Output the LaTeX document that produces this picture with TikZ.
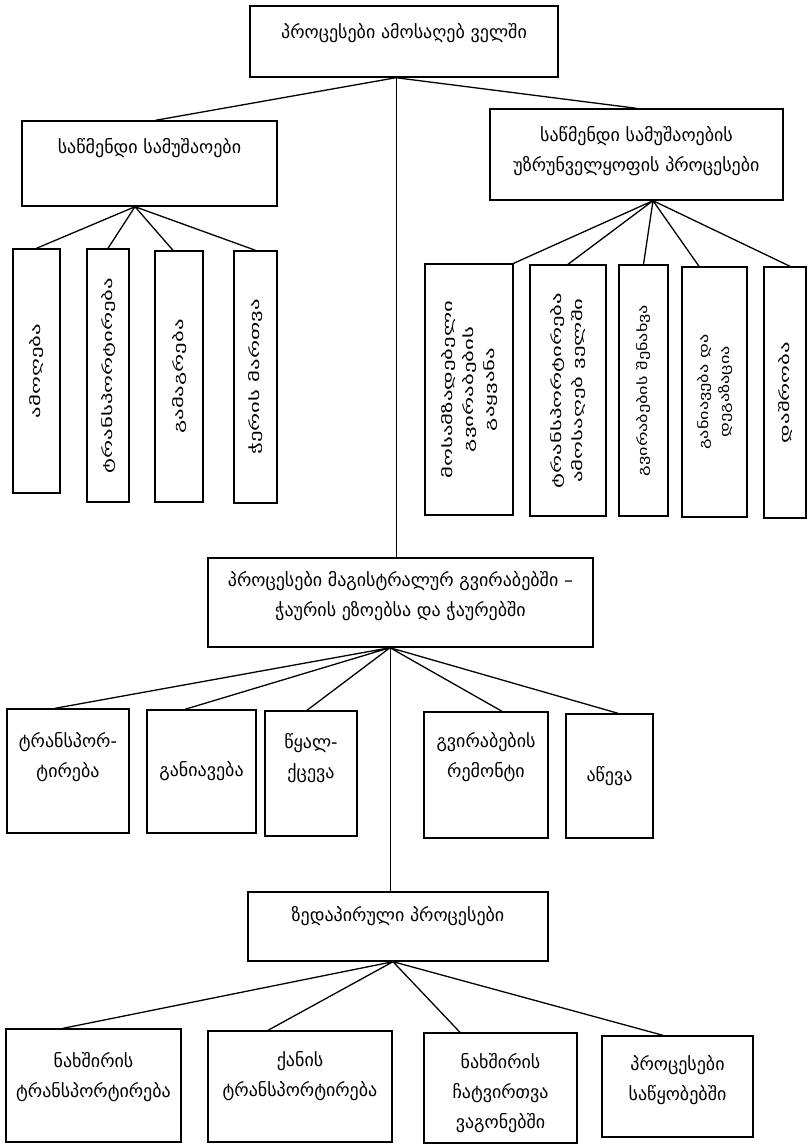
\documentclass[tikz,border=0pt]{standalone}
\usepackage{fontspec}
\setmainfont{DejaVu Sans}
\usepackage{graphicx}
\usetikzlibrary{positioning}

% text of the tall boxes: stretched along the line, then turned by the node
\newcommand{\vtxt}[2][1.75]{\scalebox{#1}[1]{\begin{tabular}{@{}c@{}}#2\end{tabular}}}

\begin{document}
\begin{tikzpicture}[
    x=1pt, y=-1pt,
    box/.style={draw, line width=1.4pt, align=center, inner sep=2pt,
        font=\fontsize{18}{30}\selectfont},
    tall/.style={draw, line width=1.4pt, rotate=90, inner sep=1pt,
        font=\fontsize{13}{21}\selectfont},
    lift/.style={text depth=#1},
    drop/.style={text height=#1},
    link/.style={line width=1.3pt},
    spine/.style={line width=1pt}
]
    \useasboundingbox (0,0) rectangle (808,1144);

    % top level and its two branches
    \node[box, minimum width=308, minimum height=71, lift=22] (top) at (404,41.5) {პროცესები ამოსაღებ ველში};
    \node[box, minimum width=255, minimum height=85, lift=35] (saw) at (149.5,163.5) {საწმენდი სამუშაოები};
    \node[box, minimum width=293, minimum height=91, lift=11] (uzr) at (636.5,154.5) {საწმენდი სამუშაოების\\უზრუნველყოფის პროცესები};

    % tall boxes, left
    \node[tall, minimum width=244, minimum height=47] (l1) at (36.5,371) {\vtxt{ამოღება}};
    \node[tall, minimum width=253, minimum height=42] (l2) at (108,375.5) {\vtxt{ტრანსპორტირება}};
    \node[tall, minimum width=251, minimum height=48] (l3) at (179,376.5) {\vtxt{გამაგრება}};
    \node[tall, minimum width=252, minimum height=43] (l4) at (255.5,377) {\vtxt{ჭერის მართვა}};

    % tall boxes, right
    \node[tall, minimum width=251, minimum height=88] (r1) at (469,389.5) {\vtxt{მოსამზადებელი\\გვირაბების\\გაყვანა}};
    \node[tall, minimum width=251, minimum height=76] (r2) at (568,390.5) {\vtxt{ტრანსპორტირება\\ამოსაღებ ველში}};
    \node[tall, minimum width=251, minimum height=49] (r3) at (643.5,390.5) {\vtxt[1.4]{გვირაბების შენახვა}};
    \node[tall, minimum width=250, minimum height=65] (r4) at (714.5,392) {\vtxt[1.4]{განიავება და\\დეგაზაცია}};
    \node[tall, minimum width=251, minimum height=42] (r5) at (785,392.5) {\vtxt{დაშრობა}};

    % main roadways
    \node[box, minimum width=385, minimum height=89, lift=17] (mag) at (400.5,602.5) {პროცესები მაგისტრალურ გვირაბებში –\\ჭაურის ეზოებსა და ჭაურებში};
    \node[box, minimum width=122, minimum height=124, lift=33] (m1) at (68,771) {ტრანსპორ-\\ტირება};
    \node[box, minimum width=109, minimum height=123] (m2) at (201.5,771.5) {განიავება};
    \node[box, minimum width=92, minimum height=125, lift=35] (m3) at (311,773.5) {წყალ-\\ქცევა};
    \node[box, minimum width=124, minimum height=126, lift=41] (m4) at (486,775) {გვირაბების\\რემონტი};
    \node[box, minimum width=87, minimum height=124] (m5) at (609.5,776) {აწევა};

    % surface
    \node[box, minimum width=300, minimum height=69, lift=25] (zed) at (398,926.5) {ზედაპირული პროცესები};
    \node[box, minimum width=175, minimum height=113, lift=21] (s1) at (93.5,1085.5) {ნახშირის\\ტრანსპორტირება};
    \node[box, minimum width=184, minimum height=111, lift=25] (s2) at (300,1086.5) {ქანის\\ტრანსპორტირება};
    \node[box, minimum width=153, minimum height=110, drop=86] (s3) at (500.5,1088) {ნახშირის\\ჩატვირთვა\\ვაგონებში};
    \node[box, minimum width=151, minimum height=101, lift=17] (s4) at (677.5,1086.5) {პროცესები\\საწყობებში};

    \coordinate (j0) at ([xshift=-8]top.south);
    \coordinate (j1) at ([xshift=-14.5]saw.south);
    \coordinate (j2) at ([xshift=16.5]uzr.south);
    \coordinate (j3) at ([xshift=-10.5]mag.south);
    \coordinate (j4) at ([xshift=-5]zed.south);

    \draw[link] (j0) -- ([xshift=6]saw.north)
                (j0) -- (uzr.north);
    \draw[spine] (j0) -- (j0 |- mag.north)
                 (j3) -- (j3 |- zed.north);
    \draw[link] (j1) -- (l1.east) (j1) -- (l2.east)
                (j1) -- ([xshift=-6]l3.east) (j1) -- (l4.east);
    \draw[link] (j2) -- (r1.south east) (j2) -- (r2.east) (j2) -- (r3.east)
                (j2) -- ([xshift=-15.5]r4.east) (j2) -- ([xshift=5]r5.east);
    \draw[link] (j3) -- ([xshift=-13]m1.north) (j3) -- ([xshift=-16.5]m2.north)
                (j3) -- ([xshift=-4]m3.north) (j3) -- ([xshift=16]m4.north)
                (j3) -- ([xshift=8.5]m5.north);
    \draw[link] (j4) -- ([xshift=-30.5]s1.north) (j4) -- ([xshift=-32]s2.north)
                (j4) -- ([xshift=-40.5]s3.north) (j4) -- ([xshift=-14.5]s4.north);
\end{tikzpicture}
\end{document}
